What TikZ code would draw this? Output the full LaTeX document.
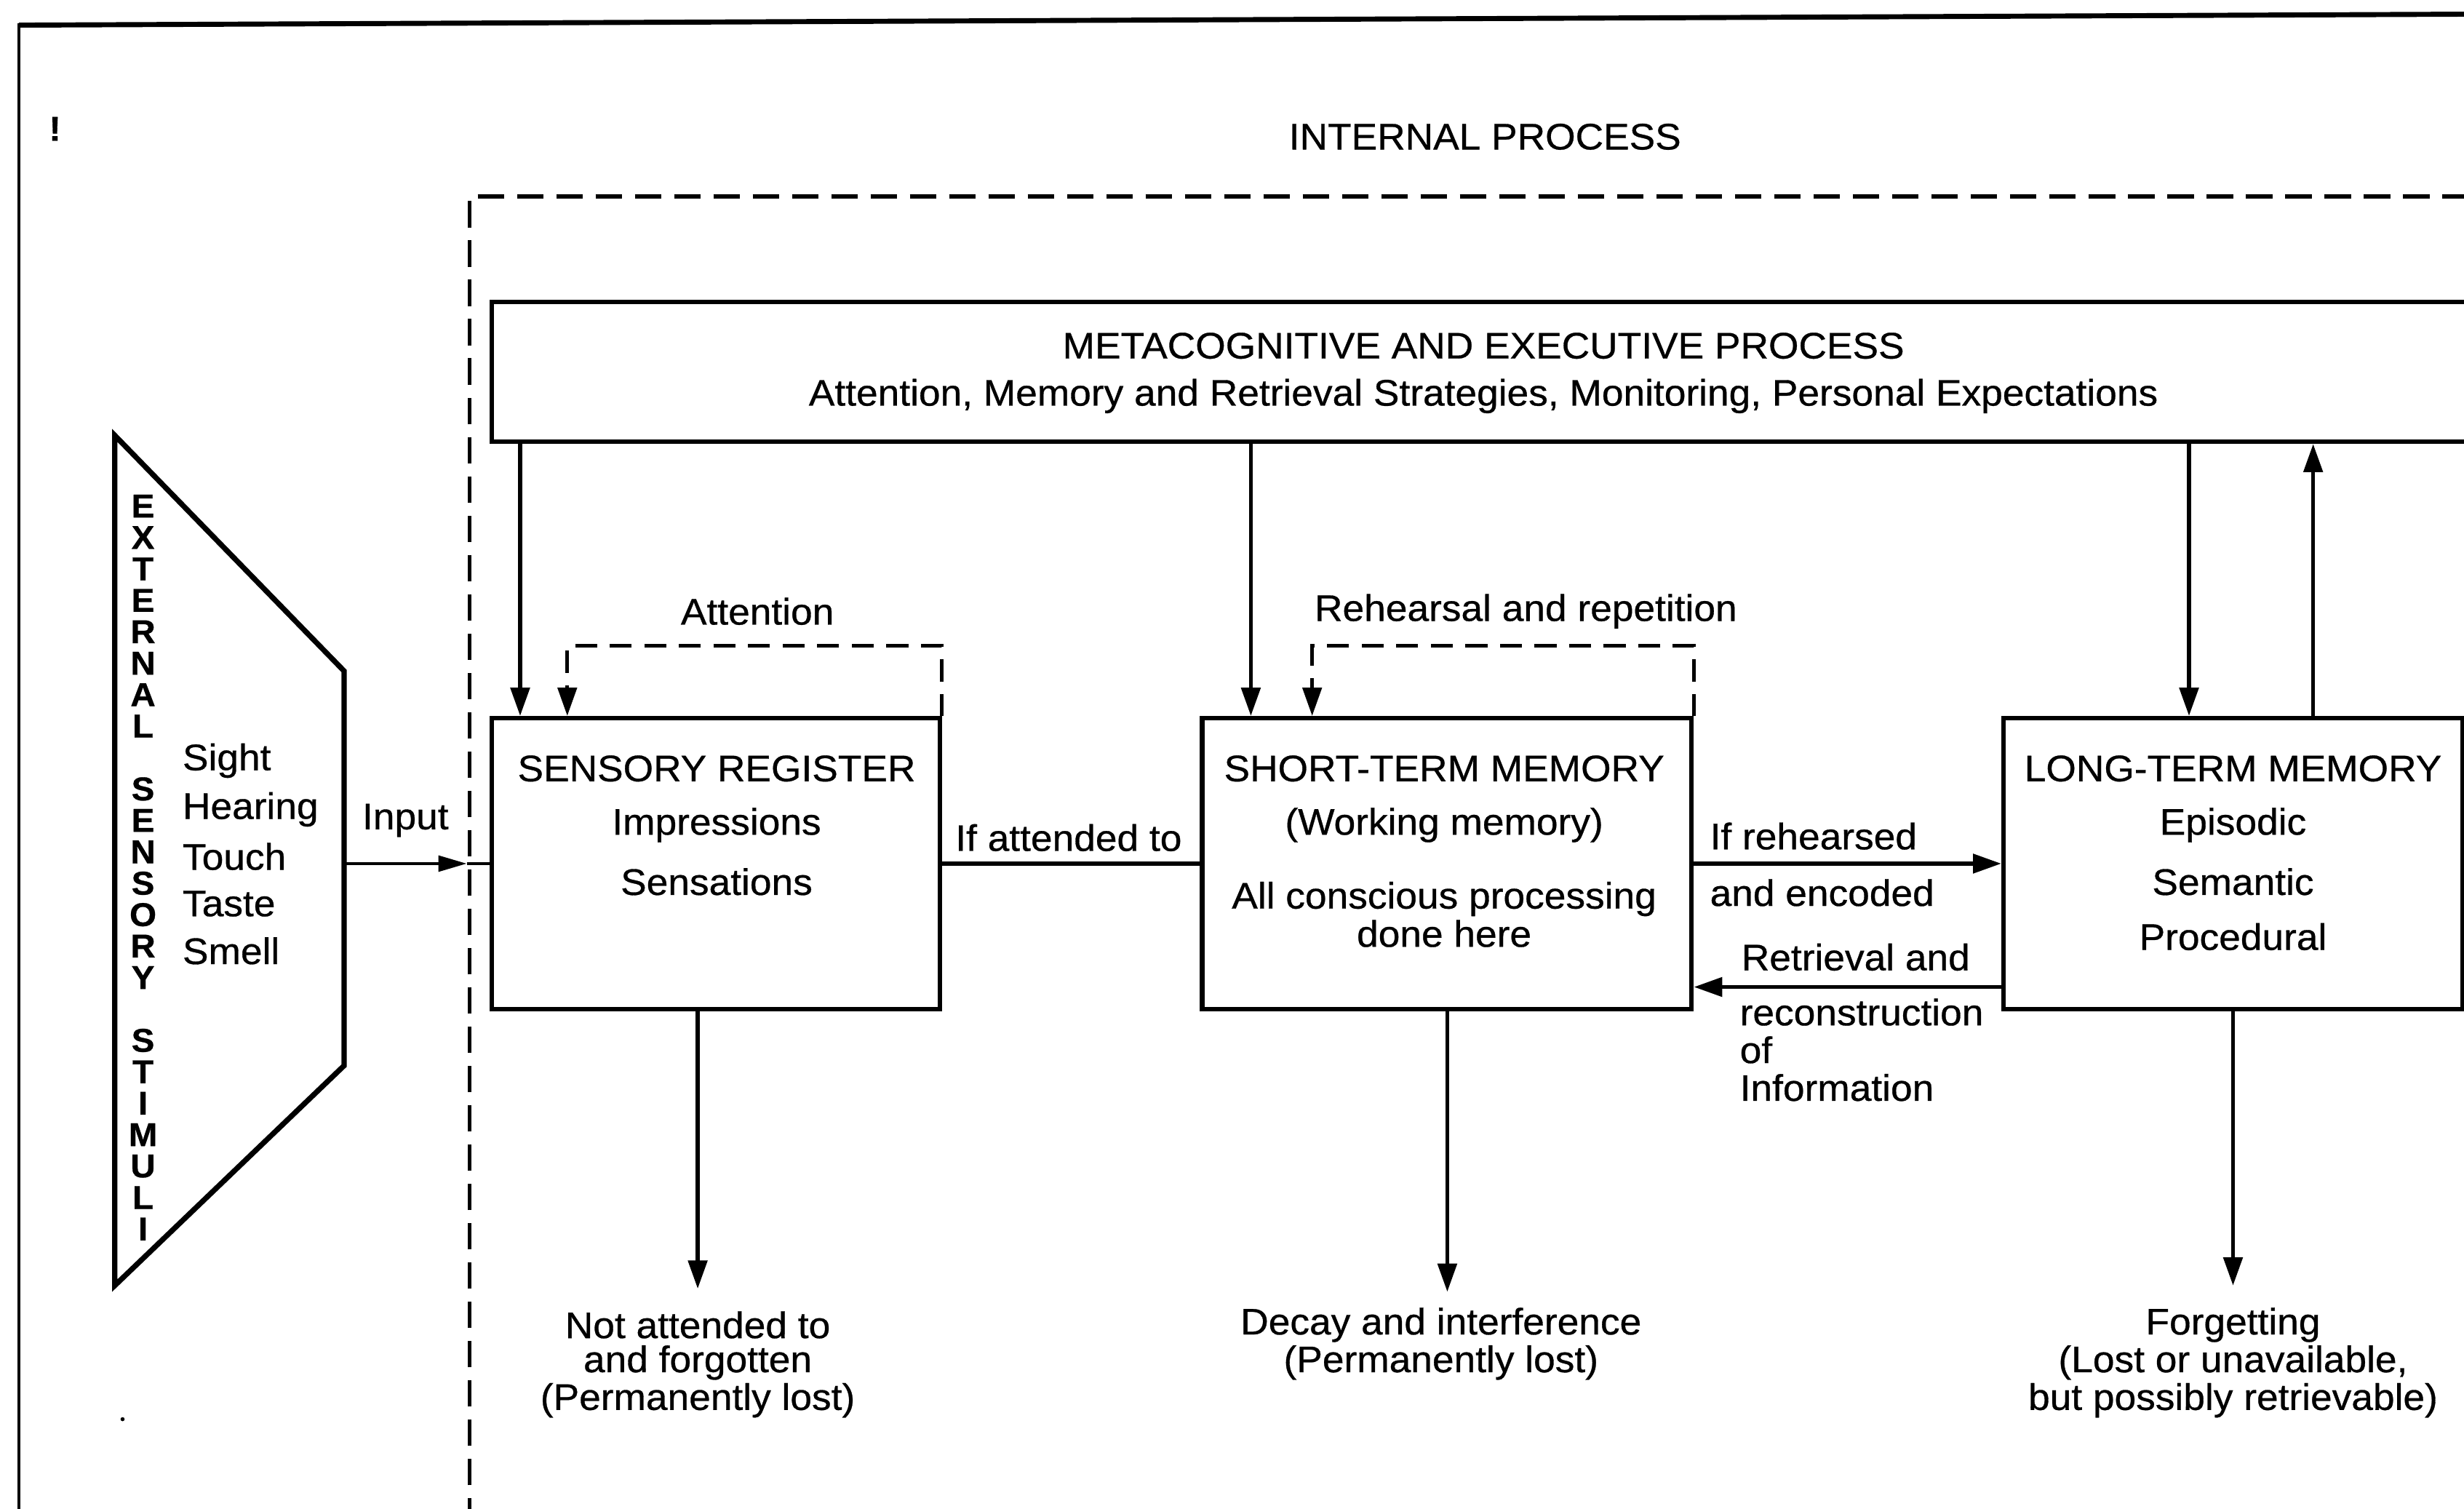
\documentclass[tikz,border=0pt]{standalone}
\usepackage{fontspec}
\setmainfont{Liberation Sans}[FakeStretch=1.05, FakeBold=0.6]
\usetikzlibrary{arrows.meta,calc}
\begin{document}
\begin{tikzpicture}[x=1pt,y=-1pt,
  txt/.style={inner sep=0pt, font=\fontsize{23.5}{26}\selectfont},
  vlet/.style={inner sep=0pt, font=\fontsize{21}{24}\selectfont\bfseries},
  box/.style={draw, line width=2.9pt, inner sep=0pt},
  tip/.style={-{Triangle[length=18pt,width=12pt]}},
  arr/.style={line width=2.6pt, tip},
  link/.style={line width=2.4pt},
  loopline/.style={line width=2.4pt, dash pattern=on 14pt off 8pt},
  border/.style={line width=2.4pt, dash pattern=on 17pt off 8pt},
  ]
\useasboundingbox (0,0) rectangle (1568,960);

% outer frame (top and left rules)
\draw[line width=3.2pt] (12,16) -- (1575,9);
\draw[line width=1.8pt] (12,15) -- (12,970);
\node[inner sep=0pt, font=\fontsize{22}{24}\selectfont\bfseries] (bang) at (35,82) {!};
\fill (78,903) circle (1.3pt);

% internal process boundary
\node[txt] (ip) at (945,87) {INTERNAL PROCESS};
\draw[border] (299,970) -- (299,125) -- (1575,125);

% external stimuli funnel
\coordinate (t1) at (73,277);
\coordinate (t2) at (219,427);
\coordinate (t3) at (219,678);
\coordinate (t4) at (73,818);
\draw[line width=3.4pt, line join=miter] (t1) -- (t2) -- (t3) -- (t4) -- cycle;
\foreach \ch [count=\k from 0] in {E,X,T,E,R,N,A,L,{},S,E,N,S,O,R,Y,{},S,T,I,M,U,L,I}
  \node[vlet] (ext\k) at (91,{322+20*\k}) {\ch};
\node[txt, anchor=west] (sight) at (116,484) {Sight};
\node[txt, anchor=west] (hear)  at (116,515) {Hearing};
\node[txt, anchor=west] (touch) at (116,545) {Touch};
\node[txt, anchor=west] (taste) at (116,575) {Taste};
\node[txt, anchor=west] (smell) at (116,605) {Smell};
\node[txt] (inlab) at (258,522) {Input};

% boxes
\node[box, minimum width=1260pt, minimum height=89pt] (meta) at (943,236.5) {};
\node[txt] (metaA) at (944,220) {METACOGNITIVE AND EXECUTIVE PROCESS};
\node[txt] (metaB) at (944,252) {Attention, Memory and Retrieval Strategies, Monitoring, Personal Expectations};

\node[box, minimum width=285pt, minimum height=185pt] (sr) at (455.5,549.5) {};
\node[txt] (srA) at (456,489) {SENSORY REGISTER};
\node[txt] (srB) at (456,525) {Impressions};
\node[txt] (srC) at (456,561) {Sensations};

\node[box, minimum width=311.5pt, minimum height=185pt] (stm) at (920.75,549.5) {};
\node[txt] (stmA) at (919,489) {SHORT-TERM MEMORY};
\node[txt] (stmB) at (919,525) {(Working memory)};
\node[txt] (stmC) at (919,572) {All conscious processing};
\node[txt] (stmD) at (919,594) {done here};

\node[box, minimum width=292pt, minimum height=185pt] (ltm) at (1421,549.5) {};
\node[txt] (ltmA) at (1421,489) {LONG-TERM MEMORY};
\node[txt] (ltmB) at (1421,525) {Episodic};
\node[txt] (ltmC) at (1421,561) {Semantic};
\node[txt] (ltmD) at (1421,596) {Procedural};

% executive control arrows
\coordinate (a1) at (331,0);
\coordinate (a2) at (796,0);
\coordinate (a3) at (1393,0);
\coordinate (a4) at (1472,0);
\draw[arr] (a1 |- meta.south) -- (a1 |- sr.north);
\draw[arr] (a2 |- meta.south) -- (a2 |- stm.north);
\draw[arr] (a3 |- meta.south) -- (a3 |- ltm.north);
\draw[arr] (a4 |- ltm.north) -- (a4 |- meta.south);

% attention and rehearsal loops
\coordinate (att) at (361,411);
\coordinate (reh) at (835,411);
\draw[loopline, tip] (sr.north east) |- (att) -- (att |- sr.north);
\draw[loopline, tip] (stm.north east) |- (reh) -- (reh |- stm.north);
\node[txt] (attlab) at (482,389) {Attention};
\node[txt] (rehlab) at (971,389) {Rehearsal and repetition};

% input
\coordinate (inp) at (297,549.5);
\draw[line width=1.9pt, -{Triangle[length=18pt,width=10pt]}] (t2 |- inp) -- (inp);
\draw[line width=1.9pt] (inp) -- (sr.west);

% flow between stores
\draw[link] (sr.east) -- (stm.west);
\node[txt] (iflab) at (680,533) {If attended to};
\draw[arr] (stm.east) -- (ltm.west);
\node[txt, anchor=west] (encA) at (1088,532) {If rehearsed};
\node[txt, anchor=west] (encB) at (1088,568) {and encoded};
\coordinate (r1) at (0,628);
\draw[arr] (r1 -| ltm.west) -- (r1 -| stm.east);
\node[txt, anchor=west] (retA) at (1108,609) {Retrieval and};
\node[txt, anchor=west] (retB) at (1107,644) {reconstruction};
\node[txt, anchor=west] (retC) at (1107,668) {of};
\node[txt, anchor=west] (retD) at (1107,692) {Information};

% losses
\coordinate (d1) at (444,820);
\coordinate (d2) at (921,822);
\coordinate (d3) at (1421,818);
\draw[arr] (d1 |- sr.south) -- (d1);
\draw[arr] (d2 |- stm.south) -- (d2);
\draw[arr] (d3 |- ltm.south) -- (d3);
\node[txt] (l1a) at (444,843) {Not attended to};
\node[txt] (l1b) at (444,867) {and forgotten};
\node[txt] (l1c) at (444,891) {(Permanently lost)};
\node[txt] (l2a) at (917,843) {Decay and interference};
\node[txt] (l2b) at (917,867) {(Permanently lost)};
\node[txt] (l3a) at (1421,843) {Forgetting};
\node[txt] (l3b) at (1421,867) {(Lost or unavailable,};
\node[txt] (l3c) at (1421,891) {but possibly retrievable)};
\end{tikzpicture}
\end{document}
